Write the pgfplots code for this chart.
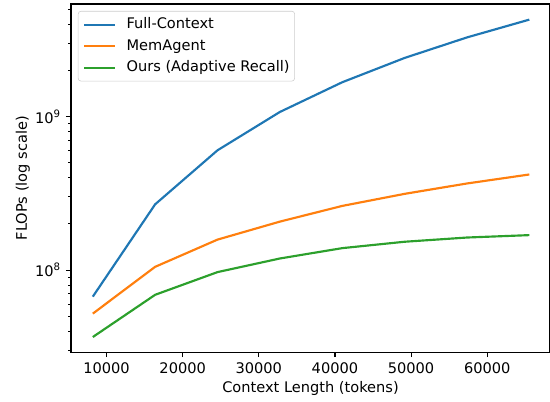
\documentclass[border=0pt]{standalone}
\usepackage{fontspec}
\setmainfont{DejaVu Sans}
\usepackage{pgfplots}
\pgfplotsset{compat=1.18}
\definecolor{tabblue}{HTML}{1F77B4}
\definecolor{taborange}{HTML}{FF7F0E}
\definecolor{tabgreen}{HTML}{2CA02C}
\begin{document}
\fontsize{10.5}{12.6}\selectfont
\begin{tikzpicture}
\begin{axis}[
  name=main,
  scale only axis,
  width=344.9pt, height=250.6pt,
  ymode=log,
  xmin=5325, xmax=68250,
  ymin=2.92e7, ymax=5.43e9,
  scaled x ticks=false,
  /pgf/number format/assume math mode=true,
  xtick={10000,20000,30000,40000,50000,60000},
  xticklabels={10000,20000,30000,40000,50000,60000},
  ytick={1e8,1e9},
  yticklabels={10\textsuperscript{8},10\textsuperscript{9}},
  minor ytick={3e7,4e7,5e7,6e7,7e7,8e7,9e7,2e8,3e8,4e8,5e8,6e8,7e8,8e8,9e8,2e9,3e9,4e9,5e9},
  tick align=outside,
  major tick length=3.6pt,
  minor tick length=2.1pt,
  every major tick/.style={black, line width=0.8pt},
  every minor tick/.style={black, line width=0.6pt},
  xtick pos=bottom, ytick pos=left,
  axis line style={line width=0.8pt},
  tick label style={font=\fontsize{10.5}{12.6}\selectfont},
  label style={font=\fontsize{10.5}{12.6}\selectfont},
  xlabel={Context Length (tokens)},
  ylabel={FLOPs (log scale)},
  xlabel style={yshift=1pt},
  ylabel style={yshift=-3.5pt},
  legend cell align=left,
  legend style={at={(0,1)}, anchor=north west, xshift=5pt, yshift=-5pt,
    draw=black!20, rounded corners=2pt, fill=white, fill opacity=0.8, text opacity=1,
    font=\fontsize{10.5}{12.6}\selectfont, inner xsep=3.6pt, inner ysep=4.6pt,
    nodes={inner xsep=0pt, inner ysep=0pt, text height=7.9pt, text depth=2.2pt},
    row sep=5.4pt,
    /tikz/every odd column/.append style={column sep=7.4pt}},
  legend image code/.code={\draw[#1] (0pt,0pt) -- (22.3pt,0pt);},
  every axis plot/.append style={line width=1.55pt},
]
\addplot[tabblue] coordinates {
(8192,67108864) (16384,268435456) (24576,603979776) (32768,1073741824)
(40960,1677721600) (49152,2415919104) (57344,3288334336) (65536,4294967296)};
\addlegendentry{Full-Context}
\addplot[taborange] coordinates {
(8192,5.2e7) (16384,1.05e8) (24576,1.58e8) (32768,2.07e8)
(40960,2.62e8) (49152,3.14e8) (57344,3.67e8) (65536,4.2e8)};
\addlegendentry{MemAgent}
\addplot[tabgreen] coordinates {
(8192,3.66e7) (16384,6.9e7) (24576,9.7e7) (32768,1.19e8)
(40960,1.39e8) (49152,1.53e8) (57344,1.63e8) (65536,1.69e8)};
\addlegendentry{Ours (Adaptive Recall)}
\end{axis}
\pgfresetboundingbox
\path ([shift={(-51.1pt,-35.3pt)}]main.south west) rectangle ([shift={(0pt,2.9pt)}]main.north east);
\end{tikzpicture}
\end{document}
